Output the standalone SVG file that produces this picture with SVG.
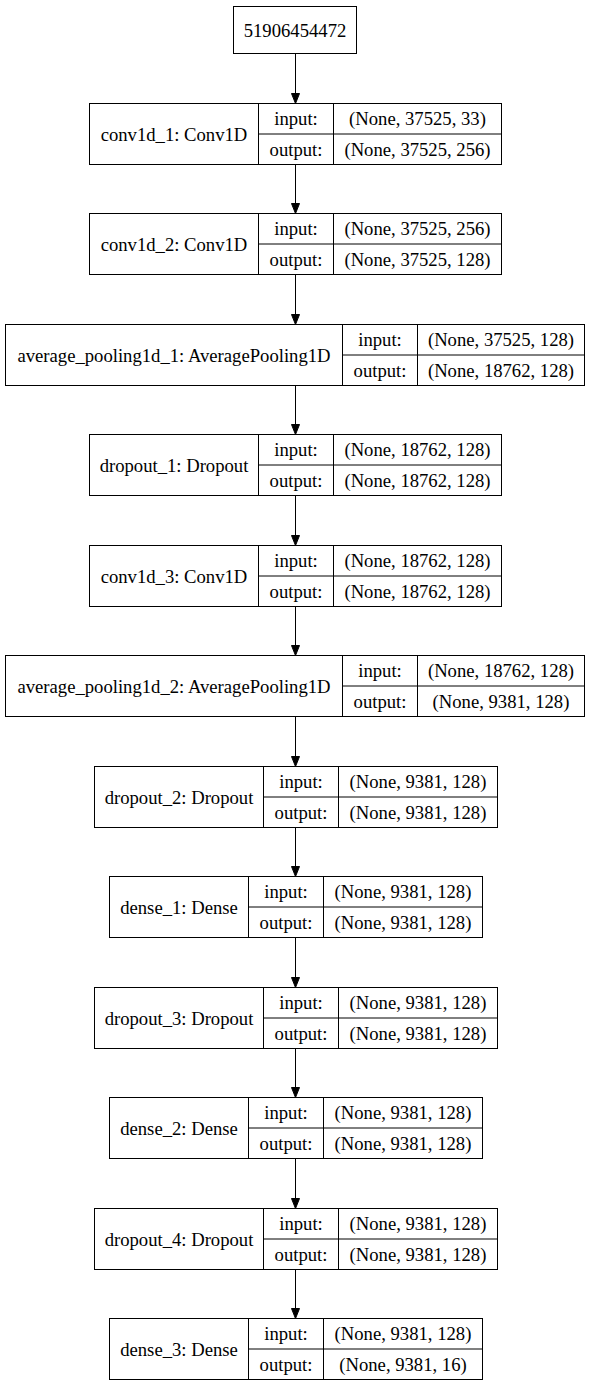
<svg xmlns="http://www.w3.org/2000/svg" width="591" height="1388" viewBox="0 0 591 1388">
<style>
rect{fill:#fff;stroke:#000;stroke-width:1}
line{stroke:#000;stroke-width:1}
text{font-family:"Liberation Serif","Times New Roman",serif;font-size:18.67px;fill:#000;text-anchor:middle}
.e polygon{fill:#000;stroke:#000;stroke-width:1}
</style>
<rect x="0" y="0" width="591" height="1388" style="fill:#fff;stroke:none"/>
<g id="input">
<rect x="233.5" y="6.5" width="123" height="47"/>
<text x="295" y="36.5">51906454472</text>
</g>
<g id="conv1d_1">
<rect x="89.5" y="103.5" width="412" height="61"/>
<line x1="258.5" y1="103.5" x2="258.5" y2="164.5"/><line x1="333.5" y1="103.5" x2="333.5" y2="164.5"/><line x1="258.5" y1="134" x2="501.5" y2="134"/>
<text x="174" y="140.5">conv1d_1: Conv1D</text><text x="296" y="124.5">input:</text><text x="296" y="155.5">output:</text>
<text x="417.5" y="124.5">(None, 37525, 33)</text><text x="417.5" y="155.5">(None, 37525, 256)</text>
</g>
<g id="conv1d_2">
<rect x="89.5" y="213.5" width="412" height="61"/>
<line x1="258.5" y1="213.5" x2="258.5" y2="274.5"/><line x1="333.5" y1="213.5" x2="333.5" y2="274.5"/><line x1="258.5" y1="244" x2="501.5" y2="244"/>
<text x="174" y="250.5">conv1d_2: Conv1D</text><text x="296" y="234.5">input:</text><text x="296" y="265.5">output:</text>
<text x="417.5" y="234.5">(None, 37525, 256)</text><text x="417.5" y="265.5">(None, 37525, 128)</text>
</g>
<g id="average_pooling1d_1">
<rect x="5.5" y="324.5" width="579" height="61"/>
<line x1="342.5" y1="324.5" x2="342.5" y2="385.5"/><line x1="417.5" y1="324.5" x2="417.5" y2="385.5"/><line x1="342.5" y1="355" x2="584.5" y2="355"/>
<text x="174" y="361.5">average_pooling1d_1: AveragePooling1D</text><text x="380" y="345.5">input:</text><text x="380" y="376.5">output:</text>
<text x="501" y="345.5">(None, 37525, 128)</text><text x="501" y="376.5">(None, 18762, 128)</text>
</g>
<g id="dropout_1">
<rect x="89.5" y="434.5" width="412" height="61"/>
<line x1="258.5" y1="434.5" x2="258.5" y2="495.5"/><line x1="333.5" y1="434.5" x2="333.5" y2="495.5"/><line x1="258.5" y1="465" x2="501.5" y2="465"/>
<text x="174" y="471.5">dropout_1: Dropout</text><text x="296" y="455.5">input:</text><text x="296" y="486.5">output:</text>
<text x="417.5" y="455.5">(None, 18762, 128)</text><text x="417.5" y="486.5">(None, 18762, 128)</text>
</g>
<g id="conv1d_3">
<rect x="89.5" y="545.5" width="412" height="61"/>
<line x1="258.5" y1="545.5" x2="258.5" y2="606.5"/><line x1="333.5" y1="545.5" x2="333.5" y2="606.5"/><line x1="258.5" y1="576" x2="501.5" y2="576"/>
<text x="174" y="582.5">conv1d_3: Conv1D</text><text x="296" y="566.5">input:</text><text x="296" y="597.5">output:</text>
<text x="417.5" y="566.5">(None, 18762, 128)</text><text x="417.5" y="597.5">(None, 18762, 128)</text>
</g>
<g id="average_pooling1d_2">
<rect x="5.5" y="655.5" width="579" height="61"/>
<line x1="342.5" y1="655.5" x2="342.5" y2="716.5"/><line x1="417.5" y1="655.5" x2="417.5" y2="716.5"/><line x1="342.5" y1="686" x2="584.5" y2="686"/>
<text x="174" y="692.5">average_pooling1d_2: AveragePooling1D</text><text x="380" y="676.5">input:</text><text x="380" y="707.5">output:</text>
<text x="501" y="676.5">(None, 18762, 128)</text><text x="501" y="707.5">(None, 9381, 128)</text>
</g>
<g id="dropout_2">
<rect x="94.5" y="766.5" width="403" height="61"/>
<line x1="263.5" y1="766.5" x2="263.5" y2="827.5"/><line x1="338.5" y1="766.5" x2="338.5" y2="827.5"/><line x1="263.5" y1="797" x2="497.5" y2="797"/>
<text x="179" y="803.5">dropout_2: Dropout</text><text x="301" y="787.5">input:</text><text x="301" y="818.5">output:</text>
<text x="418" y="787.5">(None, 9381, 128)</text><text x="418" y="818.5">(None, 9381, 128)</text>
</g>
<g id="dense_1">
<rect x="109.5" y="876.5" width="373" height="61"/>
<line x1="248.5" y1="876.5" x2="248.5" y2="937.5"/><line x1="323.5" y1="876.5" x2="323.5" y2="937.5"/><line x1="248.5" y1="907" x2="482.5" y2="907"/>
<text x="179" y="913.5">dense_1: Dense</text><text x="286" y="897.5">input:</text><text x="286" y="928.5">output:</text>
<text x="403" y="897.5">(None, 9381, 128)</text><text x="403" y="928.5">(None, 9381, 128)</text>
</g>
<g id="dropout_3">
<rect x="94.5" y="987.5" width="403" height="61"/>
<line x1="263.5" y1="987.5" x2="263.5" y2="1048.5"/><line x1="338.5" y1="987.5" x2="338.5" y2="1048.5"/><line x1="263.5" y1="1018" x2="497.5" y2="1018"/>
<text x="179" y="1024.5">dropout_3: Dropout</text><text x="301" y="1008.5">input:</text><text x="301" y="1039.5">output:</text>
<text x="418" y="1008.5">(None, 9381, 128)</text><text x="418" y="1039.5">(None, 9381, 128)</text>
</g>
<g id="dense_2">
<rect x="109.5" y="1097.5" width="373" height="61"/>
<line x1="248.5" y1="1097.5" x2="248.5" y2="1158.5"/><line x1="323.5" y1="1097.5" x2="323.5" y2="1158.5"/><line x1="248.5" y1="1128" x2="482.5" y2="1128"/>
<text x="179" y="1134.5">dense_2: Dense</text><text x="286" y="1118.5">input:</text><text x="286" y="1149.5">output:</text>
<text x="403" y="1118.5">(None, 9381, 128)</text><text x="403" y="1149.5">(None, 9381, 128)</text>
</g>
<g id="dropout_4">
<rect x="94.5" y="1208.5" width="403" height="61"/>
<line x1="263.5" y1="1208.5" x2="263.5" y2="1269.5"/><line x1="338.5" y1="1208.5" x2="338.5" y2="1269.5"/><line x1="263.5" y1="1239" x2="497.5" y2="1239"/>
<text x="179" y="1245.5">dropout_4: Dropout</text><text x="301" y="1229.5">input:</text><text x="301" y="1260.5">output:</text>
<text x="418" y="1229.5">(None, 9381, 128)</text><text x="418" y="1260.5">(None, 9381, 128)</text>
</g>
<g id="dense_3">
<rect x="109.5" y="1318.5" width="373" height="61"/>
<line x1="248.5" y1="1318.5" x2="248.5" y2="1379.5"/><line x1="323.5" y1="1318.5" x2="323.5" y2="1379.5"/><line x1="248.5" y1="1349" x2="482.5" y2="1349"/>
<text x="179" y="1355.5">dense_3: Dense</text><text x="286" y="1339.5">input:</text><text x="286" y="1370.5">output:</text>
<text x="403" y="1339.5">(None, 9381, 128)</text><text x="403" y="1370.5">(None, 9381, 16)</text>
</g>
<g id="edges" class="e">
<line x1="295.5" y1="53.5" x2="295.5" y2="93.5"/><polygon points="291.5,93.5 299.5,93.5 295.5,103.5"/>
<line x1="295.5" y1="164.5" x2="295.5" y2="203.5"/><polygon points="291.5,203.5 299.5,203.5 295.5,213.5"/>
<line x1="295.5" y1="274.5" x2="295.5" y2="314.5"/><polygon points="291.5,314.5 299.5,314.5 295.5,324.5"/>
<line x1="295.5" y1="385.5" x2="295.5" y2="424.5"/><polygon points="291.5,424.5 299.5,424.5 295.5,434.5"/>
<line x1="295.5" y1="495.5" x2="295.5" y2="535.5"/><polygon points="291.5,535.5 299.5,535.5 295.5,545.5"/>
<line x1="295.5" y1="606.5" x2="295.5" y2="645.5"/><polygon points="291.5,645.5 299.5,645.5 295.5,655.5"/>
<line x1="295.5" y1="716.5" x2="295.5" y2="756.5"/><polygon points="291.5,756.5 299.5,756.5 295.5,766.5"/>
<line x1="295.5" y1="827.5" x2="295.5" y2="866.5"/><polygon points="291.5,866.5 299.5,866.5 295.5,876.5"/>
<line x1="295.5" y1="937.5" x2="295.5" y2="977.5"/><polygon points="291.5,977.5 299.5,977.5 295.5,987.5"/>
<line x1="295.5" y1="1048.5" x2="295.5" y2="1087.5"/><polygon points="291.5,1087.5 299.5,1087.5 295.5,1097.5"/>
<line x1="295.5" y1="1158.5" x2="295.5" y2="1198.5"/><polygon points="291.5,1198.5 299.5,1198.5 295.5,1208.5"/>
<line x1="295.5" y1="1269.5" x2="295.5" y2="1308.5"/><polygon points="291.5,1308.5 299.5,1308.5 295.5,1318.5"/>
</g>
</svg>
